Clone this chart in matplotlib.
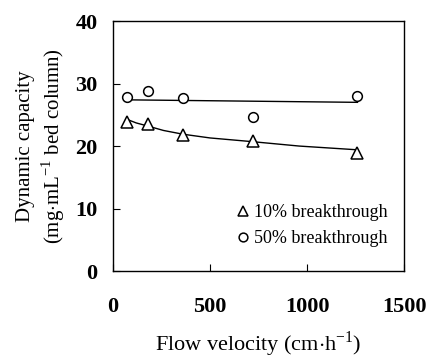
import matplotlib
matplotlib.use( 'Agg' )
import matplotlib.pyplot as plt

plt.rcParams['font.family'] = ['Liberation Serif', 'DejaVu Serif']
plt.rcParams['mathtext.fontset'] = 'custom'
plt.rcParams['mathtext.rm'] = 'Liberation Serif'

# measured dynamic capacity vs flow velocity
velocity   = [ 70, 180, 360, 720, 1260 ]
cap_10pct  = [ 23.9, 23.6, 21.8, 20.8, 18.9 ]
cap_50pct  = [ 27.8, 28.8, 27.7, 24.6, 28.0 ]

# fitted trend lines
fit10_x = [ 70, 120, 180, 260, 360, 500, 720, 960, 1260 ]
fit10_y = [ 24.3, 23.7, 23.2, 22.5, 21.9, 21.3, 20.7, 20.0, 19.4 ]
fit50_x = [ 70, 1260 ]
fit50_y = [ 27.4, 27.0 ]

labels = [ '10% breakthrough', '50% breakthrough' ]

fig = plt.figure( figsize = ( 4.28, 3.58 ), dpi = 100 )
ax = fig.add_axes( [ 0.264, 0.243, 0.68, 0.698 ] )

ax.plot( fit10_x, fit10_y, '-', color = 'black', lw = 1.0 )
ax.plot( fit50_x, fit50_y, '-', color = 'black', lw = 1.0 )

ax.plot( velocity, cap_10pct, '^', ms = 8, mfc = 'white', mec = 'black',
         mew = 1.1, ls = 'none', label = labels[0] )
ax.plot( velocity, cap_50pct, 'o', ms = 7, mfc = 'white', mec = 'black',
         mew = 1.1, ls = 'none', label = labels[1] )

ax.set_xlim( 0, 1500 )
ax.set_ylim( 0, 40 )
ax.set_xticks( [ 0, 500, 1000, 1500 ] )
ax.set_yticks( [ 0, 10, 20, 30, 40 ] )

ax.tick_params( axis = 'x', direction = 'in', length = 5, pad = 19,
                labelsize = 16 )
ax.tick_params( axis = 'y', direction = 'in', length = 5, pad = 11,
                labelsize = 16 )
for t in ax.get_xticklabels() + ax.get_yticklabels():
    t.set_fontweight( 'bold' )

for s in ax.spines.values():
    s.set_linewidth( 1.0 )

ax.set_xlabel( r'Flow velocity (cm$\cdot$h$^{\mathregular{-1}}$)',
               fontsize = 16, labelpad = 9 )
ax.set_ylabel( 'Dynamic capacity\n'
               r'(mg$\cdot$mL$^{\mathregular{-1}}$ bed column)',
               fontsize = 15, labelpad = 6, linespacing = 1.2 )

ax.legend( loc = 'lower right', bbox_to_anchor = ( 1.0, 0.03 ),
           frameon = False, fontsize = 13, handlelength = 0.6,
           handletextpad = 0.3, labelspacing = 0.5, markerscale = 0.9 )

plt.savefig( 'out.png', dpi = 100 )
plt.close()
